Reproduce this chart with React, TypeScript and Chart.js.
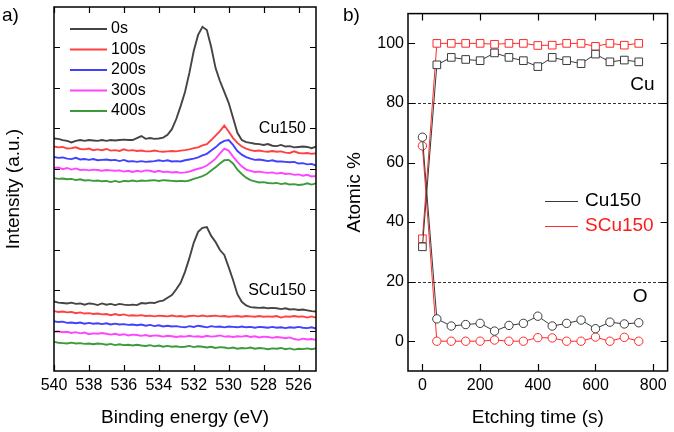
import React, { useEffect, useRef } from "react";
import { Chart, registerables } from "chart.js";
Chart.register(...registerables);

const FONT = "'Liberation Sans', Arial, Helvetica, sans-serif";

// ---------- Panel a: XPS O1s spectra ----------
const ENERGY = [
  540, 539.75, 539.5, 539.25, 539, 538.75, 538.5, 538.25, 538, 537.75,
  537.5, 537.25, 537, 536.75, 536.5, 536.25, 536, 535.75, 535.5, 535.25,
  535, 534.75, 534.5, 534.25, 534, 533.75, 533.5, 533.25, 533, 532.75,
  532.5, 532.25, 532, 531.75, 531.5, 531.25, 531, 530.75, 530.5, 530.25,
  530, 529.75, 529.5, 529.25, 529, 528.75, 528.5, 528.25, 528, 527.75,
  527.5, 527.25, 527, 526.75, 526.5, 526.25, 526, 525.75, 525.5, 525.25,
  525,
];
const ETCH_LABELS = ["0s", "100s", "200s", "300s", "400s"];
const BE_TICKS = [540, 538, 536, 534, 532, 530, 528, 526];
const INTENSITY_TICKS = [10, 20, 30, 40, 50, 60, 70, 80];
const SAMPLE_LABELS = ["Cu150", "SCu150"];
const SAMPLE_LABEL_LEVELS = [60, 20];

const CU150_0S = [
  57.5, 57.4, 57.1, 56.9, 56.5, 56.9, 57.1, 56.9, 57.1, 57.0,
  56.9, 57.1, 56.9, 57.1, 57.0, 57.1, 57.2, 57.1, 57.1, 57.6,
  58.1, 57.4, 57.6, 57.4, 57.5, 57.7, 58.4, 59.8, 62.3, 65.5,
  69.0, 73.7, 79.1, 83.1, 85.1, 84.3, 80.1, 74.9, 71.7, 69.0,
  66.3, 62.6, 58.9, 57.1, 56.6, 56.4, 56.2, 56.1, 55.9, 56.1,
  55.7, 55.6, 55.9, 55.5, 55.6, 55.3, 55.4, 55.5, 55.4, 55.1,
  55.5,
];
const CU150_100S = [
  55.5, 55.3, 55.4, 55.0, 55.1, 55.3, 54.9, 54.8, 55.0, 54.6,
  54.8, 54.6, 54.9, 54.5, 54.6, 54.4, 54.8, 54.5, 54.6, 54.4,
  54.5, 54.3, 54.3, 54.5, 54.3, 54.2, 54.3, 54.4, 54.3, 54.5,
  54.6, 54.8, 55.1, 55.3, 55.8, 56.1, 57.1, 58.2, 59.3, 60.7,
  59.2, 57.6, 56.4, 55.5, 55.0, 54.6, 54.4, 54.5, 54.3, 54.2,
  54.4, 54.2, 54.3, 54.0, 53.9, 54.3, 53.9, 53.8, 53.9, 53.7,
  53.8,
];
const CU150_200S = [
  52.9, 52.7, 52.8, 52.5, 52.4, 52.7, 52.3, 52.4, 52.2, 52.4,
  52.1, 52.2, 52.3, 52.1, 52.2, 51.9, 52.2, 51.8, 51.9, 51.7,
  51.9, 51.7, 51.8, 51.9, 52.1, 51.9, 52.1, 51.8, 51.9, 51.8,
  52.1, 52.3, 52.5, 52.8, 53.3, 53.7, 54.5, 55.3, 56.3, 56.9,
  57.1, 55.9, 54.4, 53.5, 52.9, 52.5, 52.2, 52.3, 52.1, 51.9,
  52.1, 51.8, 51.8, 51.7, 51.6, 51.7, 51.3, 51.4, 51.1, 51.2,
  50.8,
];
const CU150_300S = [
  50.2, 50.3, 49.9, 50.2, 49.8, 50.1, 49.7, 49.8, 49.6, 49.8,
  49.7, 49.5, 49.7, 49.6, 49.5, 49.6, 49.3, 49.5, 49.2, 49.5,
  49.3, 49.6, 49.5, 49.2, 49.5, 49.2, 49.3, 49.1, 49.2, 49.0,
  49.1, 49.3, 49.7, 50.0, 50.3, 50.8, 51.6, 52.5, 53.8, 55.0,
  54.5, 53.0, 51.7, 50.6, 49.8, 49.5, 49.2, 49.3, 49.1, 49.0,
  49.1, 48.8, 49.0, 48.7, 48.8, 48.5, 48.6, 48.3, 48.5, 48.1,
  48.2,
];
const CU150_400S = [
  47.7, 47.5, 47.6, 47.4, 47.5, 47.2, 47.4, 47.1, 47.2, 47.0,
  47.1, 46.9, 47.0, 46.7, 47.0, 46.7, 47.0, 46.9, 47.1, 46.9,
  47.1, 47.0, 47.1, 47.2, 47.0, 47.2, 47.1, 47.0, 46.9, 47.0,
  46.9, 47.1, 47.5, 47.8, 48.2, 48.7, 49.6, 50.4, 51.3, 52.1,
  52.2, 51.3, 49.8, 48.7, 47.8, 47.2, 46.9, 46.6, 46.7, 46.5,
  46.4, 46.5, 46.2, 46.4, 46.1, 46.2, 46.0, 46.1, 46.4, 46.1,
  46.4,
];
const SCU150_0S = [
  17.2, 16.9, 16.8, 16.7, 16.9, 16.6, 16.7, 16.4, 16.7, 16.6,
  16.3, 16.7, 16.4, 16.6, 16.3, 16.6, 16.4, 16.3, 16.4, 16.3,
  16.8, 16.7, 16.9, 16.8, 17.2, 17.4, 18.1, 18.8, 20.2, 21.8,
  24.5, 27.9, 31.7, 34.4, 35.4, 35.6, 33.4, 31.9, 29.9, 28.7,
  25.7, 22.5, 19.0, 17.1, 16.2, 15.8, 15.7, 15.6, 15.7, 15.5,
  15.6, 15.5, 15.3, 15.5, 15.2, 15.3, 15.1, 15.2, 15.0, 14.8,
  14.7,
];
const SCU150_100S = [
  14.8, 14.6, 14.7, 14.5, 14.6, 14.3, 14.5, 14.2, 14.3, 14.1,
  14.2, 14.0, 14.1, 13.8, 14.1, 13.8, 14.0, 13.7, 13.8, 13.7,
  13.8, 13.6, 13.7, 13.5, 13.7, 13.6, 13.5, 13.7, 13.5, 13.6,
  13.4, 13.6, 13.7, 13.5, 13.7, 13.5, 13.6, 13.7, 13.5, 13.6,
  13.4, 13.5, 13.6, 13.4, 13.6, 13.5, 13.4, 13.6, 13.4, 13.5,
  13.4, 13.6, 13.2, 13.5, 13.4, 13.6, 13.4, 13.5, 13.2, 13.5,
  13.2,
];
const SCU150_200S = [
  12.3, 12.1, 12.2, 11.9, 12.0, 11.8, 12.0, 11.7, 11.9, 11.7,
  11.8, 11.6, 11.8, 11.5, 11.7, 11.5, 11.6, 11.4, 11.5, 11.3,
  11.5, 11.2, 11.4, 11.1, 11.3, 11.0, 11.2, 11.0, 11.1, 10.9,
  10.8, 11.1, 10.9, 11.2, 11.0, 10.8, 11.1, 10.9, 11.0, 10.8,
  11.0, 10.9, 10.8, 11.0, 10.8, 10.9, 10.7, 10.9, 10.8, 10.7,
  10.9, 10.7, 10.8, 10.6, 10.8, 10.7, 10.9, 10.7, 10.6, 10.8,
  10.5,
];
const SCU150_300S = [
  9.7, 9.8, 9.6, 9.7, 9.4, 9.6, 9.3, 9.5, 9.1, 9.3,
  9.2, 9.4, 9.2, 9.0, 9.2, 8.9, 9.1, 8.8, 9.0, 8.9,
  8.7, 8.9, 8.6, 8.8, 8.7, 8.5, 8.7, 8.6, 8.4, 8.6,
  8.5, 8.7, 8.5, 8.6, 8.4, 8.7, 8.5, 8.6, 8.8, 8.5,
  8.6, 8.4, 8.6, 8.5, 8.7, 8.4, 8.6, 8.3, 8.5, 8.4,
  8.2, 8.4, 8.3, 8.1, 8.3, 7.9, 7.7, 8.0, 7.8, 7.9,
  7.7,
];
const SCU150_400S = [
  7.2, 7.0, 6.9, 6.8, 7.0, 6.8, 6.9, 6.7, 6.8, 6.6,
  6.8, 6.7, 6.5, 6.7, 6.4, 6.6, 6.4, 6.5, 6.3, 6.5,
  6.3, 6.2, 6.4, 6.1, 6.3, 6.0, 6.2, 6.0, 6.1, 5.9,
  6.0, 6.2, 5.9, 6.1, 6.0, 5.8, 6.0, 5.7, 5.9, 5.8,
  5.6, 5.8, 5.5, 5.7, 5.6, 5.8, 5.5, 5.7, 5.6, 5.4,
  5.6, 5.5, 5.7, 5.4, 5.6, 5.3, 5.5, 5.4, 5.6, 5.4,
  5.6,
];
const SPECTRA_COLORS = ["#444444", "#ff4040", "#4040ff", "#ff44ff", "#3c9a3c"];

// ---------- Panel b: atomic % vs etching time ----------
const ETCH_TIME = [0, 50, 100, 150, 200, 250, 300, 350, 400, 450, 500, 550, 600, 650, 700, 750];
const CU150_CU = [31.7, 92.8, 95.3, 94.6, 94.2, 96.8, 95.3, 94.2, 92.2, 95.3, 94.2, 93.2, 96.4, 93.8, 94.4, 93.8];
const SCU150_CU = [34.4, 100, 100, 100, 100, 99.7, 100, 100, 99.3, 99.4, 100, 100, 99.0, 100, 99.4, 100];
const CU150_O = [68.5, 7.5, 5.1, 5.6, 6.0, 3.4, 5.3, 6.0, 8.4, 5.1, 6.0, 7.1, 4.2, 6.4, 5.8, 6.2];
const SCU150_O = [65.6, 0, 0, 0, 0, 0.4, 0, 0, 1.2, 1.1, 0, 0, 1.4, 0, 1.3, 0];
const TIME_TICKS = [0, 200, 400, 600, 800];
const ATOMIC_TICKS = [0, 20, 40, 60, 80, 100];
const REF_LINES = [80, 20];
const ELEMENT_LABELS = ["Cu", "O"];
const ELEMENT_LABEL_LEVELS = [86, 15];
const SAMPLE_COLORS = ["#3a3a3a", "#ff2a2a"];

const toXY = (xs: number[], ys: number[]) => xs.map((x, i) => ({ x, y: ys[i] }));

function drawFrameAndTicks(chart: any, len: number) {
  const { ctx, chartArea: a, scales } = chart;
  ctx.save();
  ctx.strokeStyle = "#000";
  ctx.lineWidth = 1.2;
  ctx.beginPath();
  for (const t of scales.x.ticks) {
    const px = Math.round(scales.x.getPixelForValue(t.value)) + 0.5;
    ctx.moveTo(px, a.bottom);
    ctx.lineTo(px, a.bottom - len);
    ctx.moveTo(px, a.top);
    ctx.lineTo(px, a.top + len);
  }
  for (const t of scales.y.ticks) {
    const py = Math.round(scales.y.getPixelForValue(t.value)) + 0.5;
    ctx.moveTo(a.left, py);
    ctx.lineTo(a.left + len, py);
    ctx.moveTo(a.right, py);
    ctx.lineTo(a.right - len, py);
  }
  ctx.stroke();
  ctx.lineWidth = 1.5;
  ctx.strokeRect(a.left, a.top, a.right - a.left, a.bottom - a.top);
  ctx.restore();
}

const panelAPlugin = {
  id: "panelA",
  afterDraw(chart: any) {
    const { ctx, chartArea: a, scales } = chart;
    drawFrameAndTicks(chart, 6);
    ctx.save();
    ctx.font = `16px ${FONT}`;
    ctx.textBaseline = "middle";
    // legend
    ETCH_LABELS.forEach((lab, i) => {
      const y = 29 + i * 20.5;
      ctx.strokeStyle = SPECTRA_COLORS[i];
      ctx.lineWidth = 2;
      ctx.beginPath();
      ctx.moveTo(70, y);
      ctx.lineTo(107, y);
      ctx.stroke();
      ctx.fillStyle = "#000";
      ctx.textAlign = "left";
      ctx.fillText(lab, 111, y);
    });
    // sample labels
    ctx.textAlign = "right";
    ctx.fillStyle = "#000";
    SAMPLE_LABELS.forEach((lab, i) => {
      ctx.fillText(lab, a.right - 10, scales.y.getPixelForValue(SAMPLE_LABEL_LEVELS[i]));
    });
    ctx.font = `19px ${FONT}`;
    ctx.textAlign = "left";
    ctx.fillText("a)", 2, 16);
    ctx.restore();
  },
};

const panelBPlugin = {
  id: "panelB",
  beforeDatasetsDraw(chart: any) {
    const { ctx, chartArea: a, scales } = chart;
    ctx.save();
    ctx.strokeStyle = "#000";
    ctx.lineWidth = 0.8;
    ctx.setLineDash([3, 2]);
    ctx.beginPath();
    REF_LINES.forEach((v) => {
      const y = Math.round(scales.y.getPixelForValue(v)) + 0.5;
      ctx.moveTo(a.left, y);
      ctx.lineTo(a.right, y);
    });
    ctx.stroke();
    ctx.restore();
  },
  afterDraw(chart: any) {
    const { ctx, chartArea: a, scales } = chart;
    drawFrameAndTicks(chart, 7);
    ctx.save();
    ctx.textBaseline = "middle";
    ctx.font = `19px ${FONT}`;
    ctx.fillStyle = "#000";
    ctx.textAlign = "right";
    ctx.fillText(ELEMENT_LABELS[0], a.right - 13, scales.y.getPixelForValue(ELEMENT_LABEL_LEVELS[0]));
    ctx.fillText(ELEMENT_LABELS[1], a.right - 20, scales.y.getPixelForValue(ELEMENT_LABEL_LEVELS[1]));
    // legend
    SAMPLE_LABELS.forEach((lab, i) => {
      const y = 201 + i * 25;
      ctx.strokeStyle = SAMPLE_COLORS[i];
      ctx.lineWidth = 1;
      ctx.beginPath();
      ctx.moveTo(215, y + 0.5);
      ctx.lineTo(248, y + 0.5);
      ctx.stroke();
      ctx.fillStyle = i === 0 ? "#000" : "#ff1a1a";
      ctx.textAlign = "left";
      ctx.fillText(lab, 255, y);
    });
    ctx.fillStyle = "#000";
    ctx.fillText("b)", 13, 16);
    ctx.restore();
  },
};

const tickFont = { family: FONT, size: 16 };
const titleFont = { family: FONT, size: 19, lineHeight: 1.2 };

export default function App() {
  const refA = useRef<HTMLCanvasElement>(null);
  const refB = useRef<HTMLCanvasElement>(null);

  useEffect(() => {
    const topGroup = [CU150_0S, CU150_100S, CU150_200S, CU150_300S, CU150_400S];
    const bottomGroup = [SCU150_0S, SCU150_100S, SCU150_200S, SCU150_300S, SCU150_400S];
    const spectra = [
      ...topGroup.map((vals, i) => ({ label: `Cu150 ${ETCH_LABELS[i]}`, data: toXY(ENERGY, vals), color: SPECTRA_COLORS[i] })),
      ...bottomGroup.map((vals, i) => ({ label: `SCu150 ${ETCH_LABELS[i]}`, data: toXY(ENERGY, vals), color: SPECTRA_COLORS[i] })),
    ].reverse();

    const chartA = new Chart(refA.current!, {
      type: "line",
      data: {
        datasets: spectra.map((s) => ({
          label: s.label,
          data: s.data,
          borderColor: s.color,
          borderWidth: 1.9,
          pointRadius: 0,
          tension: 0,
        })),
      },
      options: {
        animation: false,
        responsive: false,
        devicePixelRatio: 1,
        layout: { padding: { top: 7, right: 14, left: 0, bottom: 0 } },
        plugins: { legend: { display: false }, tooltip: { enabled: false } },
        scales: {
          x: {
            type: "linear",
            min: 525,
            max: 540,
            reverse: true,
            afterBuildTicks: (s: any) => { s.ticks = BE_TICKS.map((v) => ({ value: v })); },
            afterFit: (s: any) => { s.height = 61; },
            grid: { display: false, drawTicks: false },
            border: { display: false },
            ticks: { color: "#000", font: tickFont, padding: 5, maxRotation: 0, autoSkip: false },
            title: { display: true, text: "Binding energy (eV)", color: "#000", font: titleFont, padding: { top: 0, bottom: 3 } },
          },
          y: {
            type: "linear",
            min: 0,
            max: 90,
            afterBuildTicks: (s: any) => { s.ticks = INTENSITY_TICKS.map((v) => ({ value: v })); },
            afterFit: (s: any) => { s.width = 54; },
            grid: { display: false, drawTicks: false },
            border: { display: false },
            ticks: { display: false },
            title: { display: true, text: "Intensity (a.u.)", color: "#000", font: titleFont, padding: { top: 2, bottom: 0 } },
          },
        },
      },
      plugins: [panelAPlugin],
    } as any);

    const series = [
      { label: "Cu150 Cu", data: toXY(ETCH_TIME, CU150_CU), color: SAMPLE_COLORS[0], style: "rect", r: 5.4 },
      { label: "Cu150 O", data: toXY(ETCH_TIME, CU150_O), color: SAMPLE_COLORS[0], style: "circle", r: 4.2 },
      { label: "SCu150 Cu", data: toXY(ETCH_TIME, SCU150_CU), color: SAMPLE_COLORS[1], style: "rect", r: 5.4 },
      { label: "SCu150 O", data: toXY(ETCH_TIME, SCU150_O), color: SAMPLE_COLORS[1], style: "circle", r: 4.2 },
    ];

    const chartB = new Chart(refB.current!, {
      type: "line",
      data: {
        datasets: series.map((s) => ({
          label: s.label,
          data: s.data,
          borderColor: s.color,
          borderWidth: 1,
          pointStyle: s.style,
          pointRadius: s.r,
          pointBorderColor: s.color,
          pointBackgroundColor: "#ffffff",
          pointBorderWidth: 1,
          tension: 0,
          clip: false,
        })),
      },
      options: {
        animation: false,
        responsive: false,
        devicePixelRatio: 1,
        layout: { padding: { top: 8, right: 4, left: 0, bottom: 0 } },
        plugins: { legend: { display: false }, tooltip: { enabled: false } },
        scales: {
          x: {
            type: "linear",
            min: -50,
            max: 850,
            afterBuildTicks: (s: any) => { s.ticks = TIME_TICKS.map((v) => ({ value: v })); },
            afterFit: (s: any) => { s.height = 61; },
            grid: { display: false, drawTicks: false },
            border: { display: false },
            ticks: { color: "#000", font: tickFont, padding: 5, maxRotation: 0, autoSkip: false },
            title: { display: true, text: "Etching time (s)", color: "#000", font: titleFont, padding: { top: 0, bottom: 3 } },
          },
          y: {
            type: "linear",
            min: -10,
            max: 110,
            afterBuildTicks: (s: any) => { s.ticks = ATOMIC_TICKS.map((v) => ({ value: v })); },
            afterFit: (s: any) => { s.width = 78; },
            grid: { display: false, drawTicks: false },
            border: { display: false },
            ticks: { color: "#000", font: tickFont, padding: 4 },
            title: { display: true, text: "Atomic %", color: "#000", font: titleFont, padding: { top: 13, bottom: 0 } },
          },
        },
      },
      plugins: [panelBPlugin],
    } as any);

    return () => {
      chartA.destroy();
      chartB.destroy();
    };
  }, []);

  return (
    <div style={{ position: "fixed", left: 0, top: 0, width: 674, height: 432, background: "#ffffff" }}>
      <canvas ref={refA} width={330} height={432} style={{ position: "absolute", left: 0, top: 0 }} />
      <canvas ref={refB} width={344} height={432} style={{ position: "absolute", left: 330, top: 0 }} />
    </div>
  );
}
